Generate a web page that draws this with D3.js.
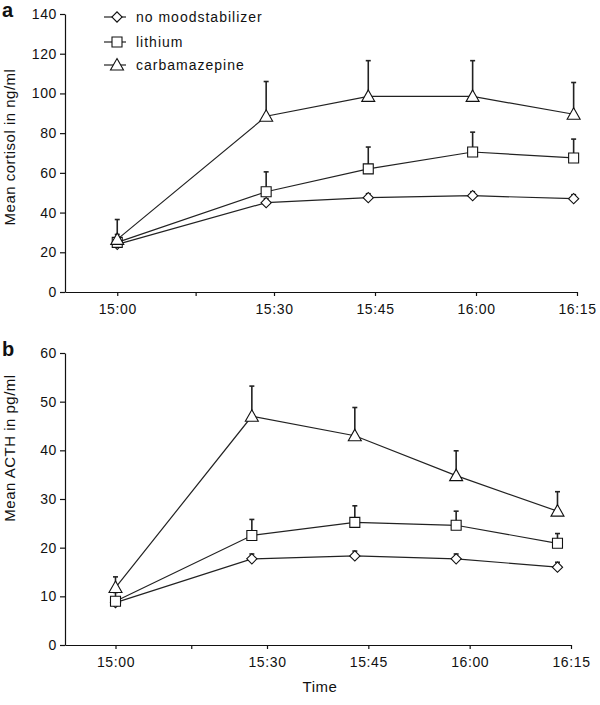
<!DOCTYPE html>
<html>
<head>
<meta charset="UTF-8" />
<style>
  body { margin: 0; background: #fff; }
  svg text { font-family: "Liberation Sans", Arial, sans-serif; fill: #111; }
  .tick text { font-size: 14px; letter-spacing: 0.6px; }
  .axis path, .axis line { stroke: #111; stroke-width: 1.2px; }
  .series { fill: none; stroke: #222; stroke-width: 1.2px; }
  .err { stroke: #222; stroke-width: 1.6px; }
  .marker { fill: #fff; stroke: #111; stroke-width: 1.1px; }
  .ylab { font-size: 15px; letter-spacing: 0.5px; }
  .legend text { font-size: 14px; letter-spacing: 1px; }
  .panel { font-size: 20px; font-weight: bold; }
</style>
<script src="https://d3js.org/d3.v7.min.js"></script>
</head>
<body>
<svg width="600" height="705"></svg>
<script>
// groups and axis labels
var groups = ["no moodstabilizer", "lithium", "carbamazepine"];
var tickMinutes = [0, 15, 30, 45, 60, 75];
var tickLabels = ["15:00", "", "15:30", "15:45", "16:00", "16:15"];

// panel a: cortisol (ng/ml), sample times in minutes after 15:00
var timesA = [0, 28.5, 44, 59.5, 74.5];
var cortisolNone = [24, 45, 47.5, 48.5, 47];
var cortisolLith = [25, 50.5, 62, 70.5, 67.5];
var cortisolCarb = [26.5, 88.5, 98.5, 98.5, 89.5];
var cortisolNoneSem = [1.5, 2, 2, 2, 2];
var cortisolLithSem = [4, 10, 11, 10, 9.5];
var cortisolCarbSem = [10, 17.5, 18, 18, 16];
var cortisolTicks = [0, 20, 40, 60, 80, 100, 120, 140];

// panel b: ACTH (pg/ml)
var timesB = [0, 27, 43, 58, 73];
var acthNone = [8.7, 17.7, 18.3, 17.7, 16];
var acthLith = [9, 22.5, 25.2, 24.6, 20.9];
var acthCarb = [11.8, 47, 43, 34.8, 27.5];
var acthNoneSem = [1, 1, 1, 1, 1];
var acthLithSem = [1.8, 3.3, 3.4, 2.9, 2.0];
var acthCarbSem = [2.2, 6.2, 5.8, 5.1, 4];
var acthTicks = [0, 10, 20, 30, 40, 50, 60];

var svg = d3.select("svg");

var shapes = [
  d3.symbol().type(d3.symbolSquare).size(52)(),   // rotated below -> diamond
  d3.symbol().type(d3.symbolSquare).size(100)(),
  "M0,-6.5L6.5,5L-6.5,5Z"
];
var rotations = [45, 0, 0];

function drawMarker(g, i, x, y) {
  g.append("path")
   .attr("class", "marker")
   .attr("d", shapes[i])
   .attr("transform", "translate(" + x + "," + y + ") rotate(" + rotations[i] + ")");
}

function panel(opt) {
  var x = d3.scaleLinear()
            .domain([-10, 30, 75])
            .range([opt.left, opt.bend, opt.right]);
  var y = d3.scaleLinear()
            .domain([0, opt.max])
            .range([opt.bottom, opt.top]);

  svg.append("g")
     .attr("class", "axis")
     .attr("transform", "translate(0," + opt.bottom + ")")
     .call(d3.axisBottom(x).tickValues(tickMinutes)
             .tickFormat(function(d, i) { return tickLabels[i]; })
             .tickSize(4).tickSizeOuter(0).tickPadding(8));

  svg.append("g")
     .attr("class", "axis")
     .attr("transform", "translate(" + opt.left + ",0)")
     .call(d3.axisLeft(y).tickValues(opt.ticks)
             .tickSize(5).tickSizeOuter(0).tickPadding(3));

  svg.selectAll(".axis .domain").attr("fill", "none");

  var line = d3.line()
               .x(function(d) { return x(d.t); })
               .y(function(d) { return y(d.v); });

  opt.series.forEach(function(s, k) {
    var pts = s.values.map(function(v, i) {
      return { t: opt.times[i], v: v, e: s.sem[i] };
    });
    var g = svg.append("g");
    g.append("path").attr("class", "series").attr("d", line(pts));

    pts.forEach(function(p) {
      g.append("line").attr("class", "err")
       .attr("x1", x(p.t)).attr("x2", x(p.t))
       .attr("y1", y(p.v)).attr("y2", y(p.v + p.e));
      g.append("line").attr("class", "err")
       .attr("x1", x(p.t) - 2.5).attr("x2", x(p.t) + 2.5)
       .attr("y1", y(p.v + p.e)).attr("y2", y(p.v + p.e));
    });
    pts.forEach(function(p) { drawMarker(g, k, x(p.t), y(p.v)); });
  });

  svg.append("text")
     .attr("class", "ylab")
     .attr("text-anchor", "middle")
     .attr("transform", "translate(15," + opt.labelY + ") rotate(-90)")
     .text(opt.label);

  svg.append("text")
     .attr("class", "panel")
     .attr("x", 2).attr("y", opt.top + 3)
     .text(opt.name);
}

panel({
  name: "a", label: "Mean cortisol in ng/ml", labelY: 147,
  left: 65, bend: 274, right: 577, top: 14, bottom: 292,
  max: 140, ticks: cortisolTicks, times: timesA,
  series: [
    { values: cortisolNone, sem: cortisolNoneSem },
    { values: cortisolLith, sem: cortisolLithSem },
    { values: cortisolCarb, sem: cortisolCarbSem }
  ]
});

panel({
  name: "b", label: "Mean ACTH in pg/ml", labelY: 448,
  left: 65, bend: 267, right: 571, top: 353, bottom: 645,
  max: 60, ticks: acthTicks, times: timesB,
  series: [
    { values: acthNone, sem: acthNoneSem },
    { values: acthLith, sem: acthLithSem },
    { values: acthCarb, sem: acthCarbSem }
  ]
});

svg.append("text")
   .attr("class", "ylab")
   .attr("x", 320).attr("y", 692)
   .attr("text-anchor", "middle")
   .text("Time");

// legend
var legend = svg.append("g").attr("class", "legend");
var legendY = [17, 42, 65];
groups.forEach(function(name, i) {
  var row = legend.append("g").attr("transform", "translate(0," + legendY[i] + ")");
  row.append("line").attr("class", "series")
     .attr("x1", 104).attr("x2", 126).attr("y1", 0).attr("y2", 0);
  drawMarker(row, i, 117, 0);
  row.append("text").attr("x", 136).attr("y", 5).text(name);
});
</script>
</body>
</html>
